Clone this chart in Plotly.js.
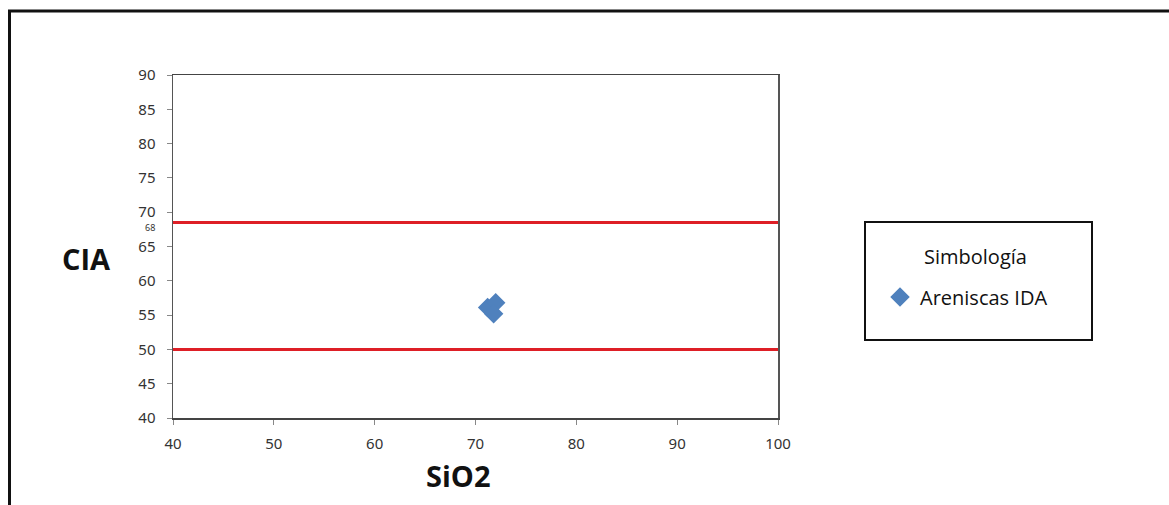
<!DOCTYPE html>
<html>
<head>
<meta charset="utf-8">
<script src="https://cdn.plot.ly/plotly-3.0.1.min.js"></script>
<style>
html,body{margin:0;padding:0;background:#fff;}
#chart{width:1169px;height:505px;}
</style>
</head>
<body>
<div id="chart"></div>
<script>
// Data
const seriesName = "Areniscas IDA";
const sio2 = [71.2, 72.0, 71.8];
const cia = [56.1, 56.8, 55.2];
const limitLines = [68.5, 50];
const limitX = [40, 100];
const xTicks = [40, 50, 60, 70, 80, 90, 100];
const yTicks = [40, 45, 50, 55, 60, 65, 70, 75, 80, 85, 90];
const extraLabel = {value: 68, text: "68"};
const xTitle = "SiO2";
const yTitle = "CIA";
const legendTitle = "Simbología";

const traces = [];
limitLines.forEach(v => {
  traces.push({
    x: limitX, y: [v, v], mode: 'lines', showlegend: false, hoverinfo: 'skip',
    line: {color: '#DE1F26', width: 3}
  });
});
traces.push({
  x: sio2, y: cia, mode: 'markers', name: seriesName, type: 'scatter',
  marker: {symbol: 'diamond', size: 15, color: '#4F81BD', line: {width: 0}}
});

const tickFont = {family: 'Noto Sans, Open Sans, sans-serif', size: 15, color: '#333'};
const titleFont = {family: 'Open Sans, sans-serif', size: 29, weight: 'bold', color: '#111'};
const W = 605, H = 343, L = 173, T = 75;
const px = p => (p - L) / W;
const py = p => (T + H - p) / H;

const layout = {
  width: 1169, height: 505,
  margin: {l: 173, r: 391, t: 75, b: 87},
  paper_bgcolor: '#fff', plot_bgcolor: '#fff',
  showlegend: true,
  xaxis: {
    range: [40, 100], tickvals: xTicks, ticktext: xTicks.map(String),
    showgrid: false, zeroline: false,
    showline: true, linecolor: '#444', linewidth: 1.5, mirror: true,
    ticks: 'outside', ticklen: 5, tickcolor: '#888', tickwidth: 1,
    tickfont: tickFont, ticklabelstandoff: 6,
    automargin: false
  },
  yaxis: {
    range: [40, 90], tickvals: yTicks, ticktext: yTicks.map(String),
    showgrid: false, zeroline: false,
    showline: true, linecolor: '#555', linewidth: 1.5, mirror: true,
    ticks: 'outside', ticklen: 5, tickcolor: '#888', tickwidth: 1,
    tickfont: tickFont, ticklabelstandoff: 8,
    automargin: false
  },
  legend: {
    x: px(880), xanchor: 'left', y: py(297), yanchor: 'middle',
    bgcolor: 'rgba(0,0,0,0)', borderwidth: 0,
    font: {family: 'Open Sans, sans-serif', size: 20, color: '#111'},
    itemclick: false
  },
  annotations: [
    {xref: 'paper', yref: 'paper', x: px(86), y: py(258), text: yTitle, showarrow: false,
     xanchor: 'center', yanchor: 'middle', font: titleFont},
    {xref: 'paper', yref: 'paper', x: px(458), y: py(475), text: xTitle, showarrow: false,
     xanchor: 'center', yanchor: 'middle', font: titleFont},
    {xref: 'paper', yref: 'paper', x: px(975), y: py(256), text: legendTitle, showarrow: false,
     xanchor: 'center', yanchor: 'middle',
     font: {family: 'Open Sans, sans-serif', size: 20, color: '#111'}},
    {xref: 'paper', yref: 'y', x: px(157), y: extraLabel.value, text: extraLabel.text, showarrow: false,
     xanchor: 'right', yanchor: 'middle', yshift: -2,
     font: {family: 'Noto Sans, sans-serif', size: 9, color: '#333'}}
  ],
  shapes: [
    {type: 'rect', xref: 'paper', yref: 'paper', x0: px(865), x1: px(1092), y0: py(340), y1: py(222),
     line: {color: '#111', width: 2}, fillcolor: 'rgba(0,0,0,0)'},
    {type: 'rect', xref: 'paper', yref: 'paper', x0: px(9.5), x1: px(1200), y0: py(540), y1: py(11),
     line: {color: '#111', width: 3}, fillcolor: 'rgba(0,0,0,0)'}
  ]
};

Plotly.newPlot('chart', traces, layout, {displayModeBar: false, staticPlot: true});
</script>
</body>
</html>
